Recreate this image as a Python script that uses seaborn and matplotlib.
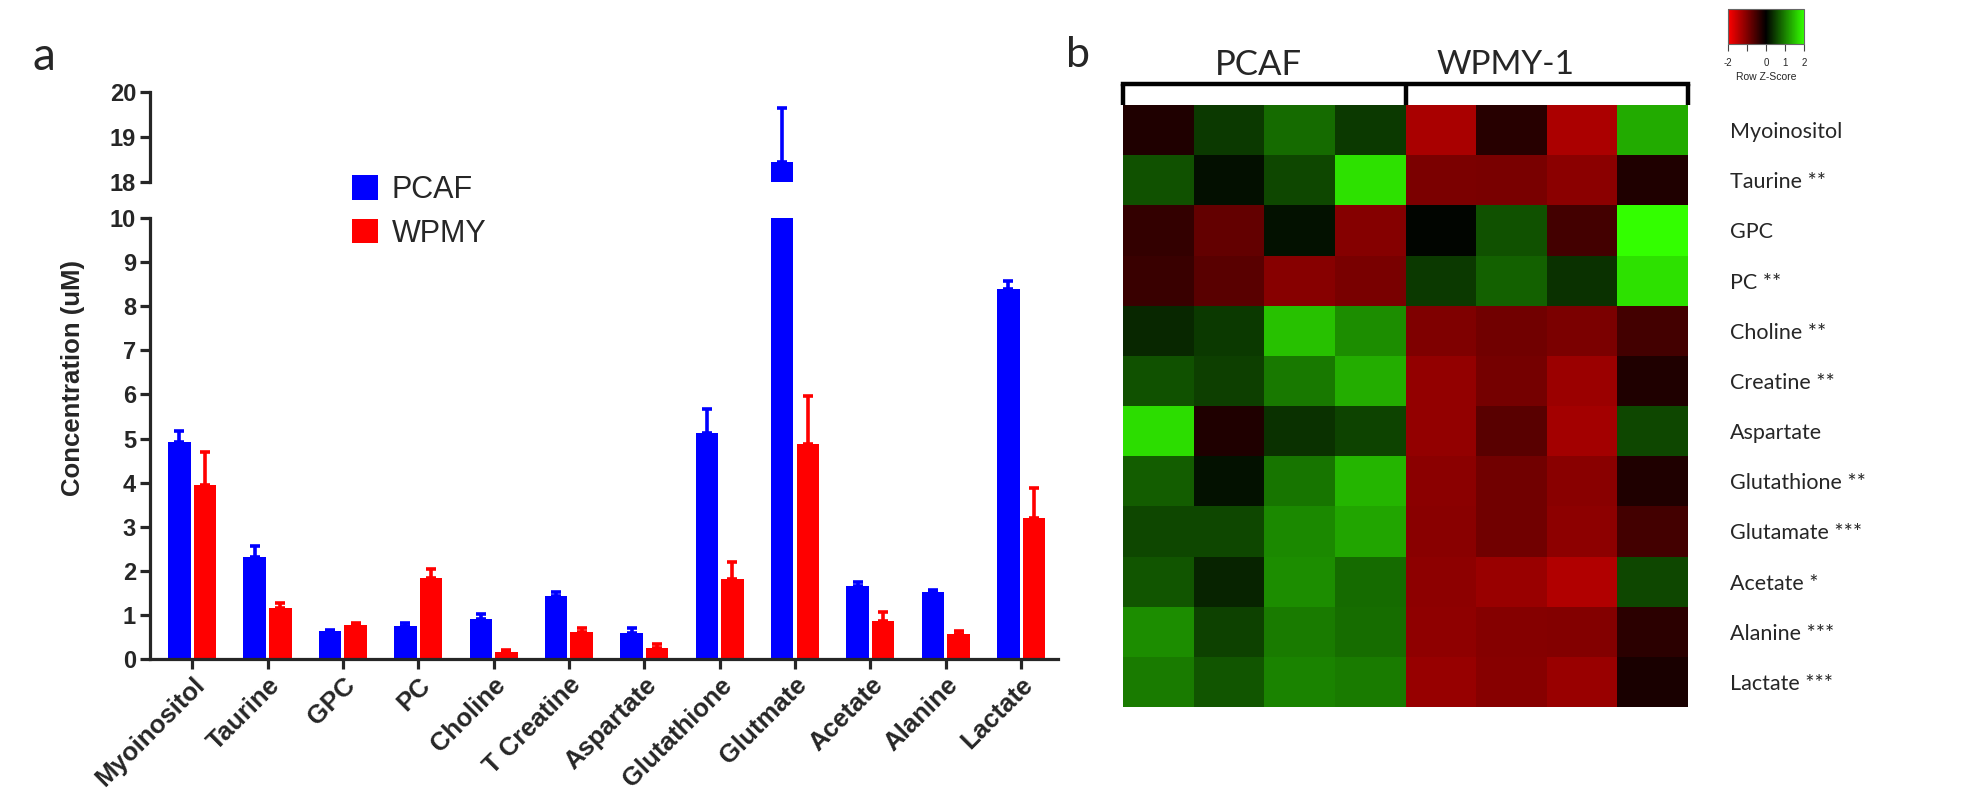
import numpy as np
import pandas as pd
import matplotlib
matplotlib.use("Agg")
import matplotlib.pyplot as plt
import seaborn as sns
from matplotlib.colors import LinearSegmentedColormap

# ---------------- data: panel a ----------------
metabolites = ["Myoinositol", "Taurine", "GPC", "PC", "Choline", "T Creatine",
               "Aspartate", "Glutathione", "Glutmate", "Acetate", "Alanine", "Lactate"]
groups = ["PCAF", "WPMY"]
pcaf_mean = [4.92, 2.32, 0.64, 0.74, 0.90, 1.43, 0.60, 5.13, 18.45, 1.66, 1.53, 8.40]
pcaf_sem = [0.26, 0.24, 0.02, 0.07, 0.11, 0.08, 0.10, 0.54, 1.20, 0.08, 0.04, 0.18]
wpmy_mean = [3.95, 1.15, 0.77, 1.84, 0.17, 0.62, 0.26, 1.81, 4.88, 0.86, 0.57, 3.20]
wpmy_sem = [0.75, 0.13, 0.04, 0.19, 0.04, 0.09, 0.09, 0.40, 1.08, 0.21, 0.06, 0.68]
upper_ticks = [18, 19, 20]
lower_ticks = list(range(0, 11))

# ---------------- data: panel b ----------------
row_labels = ["Myoinositol", "Taurine **", "GPC", "PC **", "Choline **", "Creatine **",
              "Aspartate", "Glutathione **", "Glutamate ***", "Acetate *", "Alanine ***",
              "Lactate ***"]
col_groups = ["PCAF", "WPMY-1"]
col_labels = ["PCAF_1", "PCAF_2", "PCAF_3", "PCAF_4", "WPMY_1", "WPMY_2", "WPMY_3", "WPMY_4"]
zscores = [
    [-0.24, 0.45, 0.83, 0.45, -1.32, -0.31, -1.33, 1.33],
    [0.64, 0.12, 0.55, 1.76, -0.96, -0.94, -1.08, -0.25],
    [-0.40, -0.78, 0.14, -1.04, 0.04, 0.64, -0.53, 2.00],
    [-0.45, -0.69, -1.06, -0.94, 0.44, 0.75, 0.38, 1.76],
    [0.31, 0.45, 1.50, 1.10, -0.99, -0.88, -0.96, -0.52],
    [0.64, 0.49, 0.94, 1.35, -1.15, -0.91, -1.21, -0.24],
    [1.73, -0.24, 0.39, 0.52, -1.15, -0.69, -1.27, 0.55],
    [0.72, 0.14, 0.91, 1.41, -1.08, -0.89, -1.07, -0.25],
    [0.56, 0.56, 1.07, 1.29, -1.07, -0.88, -1.10, -0.52],
    [0.66, 0.27, 1.10, 0.83, -1.10, -1.19, -1.38, 0.55],
    [1.10, 0.50, 0.96, 0.85, -1.11, -1.04, -1.02, -0.33],
    [0.96, 0.66, 1.02, 0.96, -1.18, -1.05, -1.19, -0.19],
]
key_ticks = [-2, -1, 0, 1, 2]
key_ticklabels = ["-2", "", "0", "1", "2"]

# ---------------- style ----------------
sns.set_style("ticks")
plt.rcParams["font.family"] = ["Liberation Sans", "DejaVu Sans"]
W, H = 1982, 799
fig = plt.figure(figsize=(W / 100, H / 100), dpi=100)

def fx(px):
    return px / W

def fy(py):
    return 1 - py / H

left_px, right_px = 150, 1058
bot_px = 659
ax_bot = fig.add_axes([fx(left_px), fy(bot_px), fx(right_px - left_px), (bot_px - 218) / H])
ax_top = fig.add_axes([fx(left_px), fy(182), fx(right_px - left_px), (182 - 92) / H])

df = pd.DataFrame({
    "Metabolite": metabolites * 2,
    "Group": [groups[0]] * len(metabolites) + [groups[1]] * len(metabolites),
    "Conc": pcaf_mean + wpmy_mean,
})
palette = {"PCAF": "#0000FF", "WPMY": "#FF0000"}
sems = [pcaf_sem, wpmy_sem]
lw_axis = 2.3

for ax in (ax_top, ax_bot):
    sns.barplot(data=df, x="Metabolite", y="Conc", hue="Group", order=metabolites,
                hue_order=groups, palette=palette, width=0.68, gap=0.12,
                errorbar=None, saturation=1, linewidth=0, ax=ax,
                legend=(ax is ax_bot))
    for container, err, g in zip(ax.containers, sems, groups):
        xs = [p.get_x() + p.get_width() / 2 for p in container]
        hs = [p.get_height() for p in container]
        ax.errorbar(xs, hs, yerr=[np.zeros(len(err)), err], fmt="none",
                    ecolor=palette[g], elinewidth=2.6, capsize=3.4, capthick=2.6)
    ax.set_xlim(-0.56, len(metabolites) - 1 + 0.49)
    ax.set_xlabel("")
    ax.set_ylabel("")
    for s in ("top", "right"):
        ax.spines[s].set_visible(False)
    ax.spines["left"].set_linewidth(lw_axis)
    ax.spines["bottom"].set_linewidth(lw_axis)
    ax.tick_params(axis="both", width=lw_axis, length=7, labelsize=17, pad=3)

ax_bot.set_ylim(0, 10)
ax_bot.set_yticks(lower_ticks)
ax_top.set_ylim(18, 20)
ax_top.set_yticks(upper_ticks)
ax_top.spines["bottom"].set_visible(False)
ax_top.tick_params(axis="x", bottom=False, labelbottom=False)

for lab in ax_bot.get_yticklabels() + ax_top.get_yticklabels():
    lab.set_fontweight("bold")
ax_bot.set_xticks(range(len(metabolites)))
ax_bot.set_xticklabels(metabolites)
for lab in ax_bot.get_xticklabels():
    lab.set_rotation(45)
    lab.set_ha("right")
    lab.set_rotation_mode("anchor")
    lab.set_fontweight("bold")
    lab.set_fontsize(18.5)

handles, labels = ax_bot.get_legend_handles_labels()
ax_bot.get_legend().remove()
fig.legend(handles, labels, loc="upper left", bbox_to_anchor=(fx(352), fy(175)),
           bbox_transform=fig.transFigure, frameon=False, fontsize=22,
           handlelength=0.85, handleheight=0.85, handletextpad=0.45,
           labelspacing=0.45, borderpad=0, borderaxespad=0)

fig.text(fx(73), fy(378), "Concentration (uM)", rotation=90, ha="center", va="center",
         fontsize=18.5, fontweight="bold")

# ---------------- panel b ----------------
hm_left, hm_right, hm_top, hm_bottom = 1123, 1688, 105, 707
ax_hm = fig.add_axes([fx(hm_left), fy(hm_bottom), fx(hm_right - hm_left), (hm_bottom - hm_top) / H])
ax_key = fig.add_axes([fx(1728), fy(44), fx(76), 35 / H])

cmap = LinearSegmentedColormap.from_list("rg", ["#FF0000", "#000000", "#33FF00"])
zdf = pd.DataFrame(zscores, index=row_labels, columns=col_labels)
sns.heatmap(zdf, cmap=cmap, vmin=-2, vmax=2, ax=ax_hm, cbar_ax=ax_key,
            cbar_kws={"orientation": "horizontal", "ticks": key_ticks},
            xticklabels=False, yticklabels=row_labels)
ax_hm.yaxis.tick_right()
ax_hm.tick_params(axis="y", length=0, pad=30, labelsize=15.5)
for lab in ax_hm.get_yticklabels():
    lab.set_rotation(0)
    lab.set_ha("left")
    lab.set_family(["Lato", "DejaVu Sans"])
ax_hm.set_ylabel("")
ax_hm.set_xlabel("")

ncol = len(col_labels)
nhalf = ncol // 2
ybr = -0.42
ax_hm.plot([0, ncol], [ybr, ybr], color="black", lw=3.2, clip_on=False,
           solid_capstyle="projecting")
for xv in (0, nhalf, ncol):
    ax_hm.plot([xv, xv], [ybr, 0], color="black", lw=3.2, clip_on=False,
               solid_capstyle="butt")
ax_hm.text(nhalf / 2 - 0.08, -0.8, col_groups[0], ha="center", va="center",
           fontsize=25, family=["Lato", "DejaVu Sans"])
ax_hm.text(nhalf + nhalf / 2 - 0.58, -0.8, col_groups[1], ha="center", va="center",
           fontsize=24, family=["Lato", "DejaVu Sans"])

cbar = ax_hm.collections[0].colorbar
cbar.set_ticklabels(key_ticklabels)
cbar.ax.tick_params(labelsize=7, length=5, width=0.8, color="#444444", pad=5)
cbar.outline.set_edgecolor("#666666")
cbar.outline.set_linewidth(0.8)
cbar.ax.set_xlabel("Row Z-Score", fontsize=7.5, labelpad=3)

# panel letters
fig.text(fx(32), fy(70), "a", fontsize=33, family=["Lato", "DejaVu Sans"], va="baseline")
fig.text(fx(1066), fy(67), "b", fontsize=31, family=["Lato", "DejaVu Sans"], va="baseline")

fig.savefig("out.png", dpi=100)
